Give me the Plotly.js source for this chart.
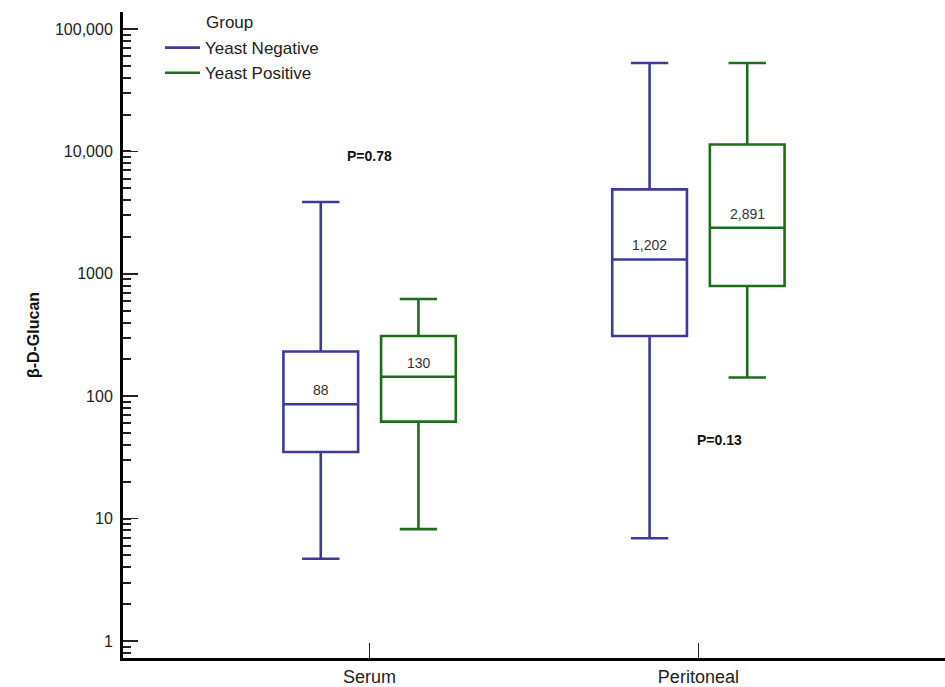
<!DOCTYPE html>
<html>
<head>
<meta charset="utf-8">
<script src="https://cdn.plot.ly/plotly-3.0.1.min.js"></script>
<style>html,body{margin:0;padding:0;background:#fff;} #chart{width:945px;height:687px;}</style>
</head>
<body>
<div id="chart"></div>
<script>
const categories = ["Serum", "Peritoneal"];
const groups = ["Yeast Negative", "Yeast Positive"];
// box statistics
const negLower  = [4.7, 6.9];
const negQ1     = [35, 310];
const negMedian = [86, 1310];
const negQ3     = [232, 4900];
const negUpper  = [3860, 52700];
const posLower  = [8.2, 142];
const posQ1     = [62, 795];
const posMedian = [144, 2380];
const posQ3     = [310, 11400];
const posUpper  = [622, 52700];
// labels drawn inside boxes
const negLabels = ["88", "1,202"];
const posLabels = ["130", "2,891"];
const pValues = ["P=0.78", "P=0.13"];
const pValueY = [9170, 44];
const yTickVals = [1, 10, 100, 1000, 10000, 100000];
const yTickText = ["1", "10", "100", "1000", "10,000", "100,000"];

const blue = "#3d3a9a";
const green = "#1d6d1d";
const FONT = "Arial, Liberation Sans, sans-serif";

const traces = [
  {type: "box", name: groups[0], x: categories, q1: negQ1, median: negMedian, q3: negQ3,
   lowerfence: negLower, upperfence: negUpper, boxpoints: false, showlegend: false,
   fillcolor: "rgba(255,255,255,0)", line: {color: blue, width: 2.6}, whiskerwidth: 0.5, hoverinfo: "skip"},
  {type: "box", name: groups[1], x: categories, q1: posQ1, median: posMedian, q3: posQ3,
   lowerfence: posLower, upperfence: posUpper, boxpoints: false, showlegend: false,
   fillcolor: "rgba(255,255,255,0)", line: {color: green, width: 2.6}, whiskerwidth: 0.5, hoverinfo: "skip"},
  {type: "scatter", mode: "lines", name: groups[0], x: [null], y: [null], line: {color: blue, width: 2.6}, showlegend: true},
  {type: "scatter", mode: "lines", name: groups[1], x: [null], y: [null], line: {color: green, width: 2.6}, showlegend: true}
];

const annotations = [];
categories.forEach((c, i) => {
  annotations.push({x: c, y: Math.log10(negMedian[i]), xref: "x", yref: "y", text: negLabels[i],
    showarrow: false, xshift: -49, yshift: 14, font: {family: FONT, size: 14, color: "#333"}});
  annotations.push({x: c, y: Math.log10(posMedian[i]), xref: "x", yref: "y", text: posLabels[i],
    showarrow: false, xshift: 49, yshift: 14, font: {family: FONT, size: 14, color: "#333"}});
});
annotations.push({x: categories[0], y: Math.log10(pValueY[0]), xref: "x", yref: "y", text: "<b>" + pValues[0] + "</b>",
  showarrow: false, xshift: 0, font: {family: FONT, size: 14, color: "#111"}});
annotations.push({x: categories[1], y: Math.log10(pValueY[1]), xref: "x", yref: "y", text: "<b>" + pValues[1] + "</b>",
  showarrow: false, xshift: 21, font: {family: FONT, size: 14, color: "#111"}});
annotations.push({x: 0.098, y: 1, xref: "paper", yref: "paper", xanchor: "left", yanchor: "middle", yshift: -10,
  text: "Group", showarrow: false, font: {family: FONT, size: 17, color: "#222"}});

const layout = {
  width: 945, height: 687,
  margin: {l: 123, r: 0, t: 12, b: 29},
  paper_bgcolor: "#fff", plot_bgcolor: "#fff",
  boxmode: "group", boxgap: 0.406, boxgroupgap: 0.235,
  font: {family: FONT, size: 16, color: "#222"},
  xaxis: {
    type: "category", range: [-0.75, 1.75], showline: true, linecolor: "#000", linewidth: 3,
    ticks: "inside", ticklen: 15, tickwidth: 1, tickcolor: "#222", showgrid: false, zeroline: false,
    tickfont: {size: 18, color: "#222"}, fixedrange: true
  },
  yaxis: {
    type: "log", range: [-0.139, 5.139], showline: true, linecolor: "#000", linewidth: 3,
    tickvals: yTickVals, ticktext: yTickText,
    ticks: "inside", ticklen: 15, tickwidth: 1.5, tickcolor: "#222", showgrid: false, zeroline: false,
    tickfont: {size: 16, color: "#222"}, ticklabelstandoff: 4,
    minor: {ticks: "inside", ticklen: 8, tickwidth: 2, tickcolor: "#222", dtick: "D1", showgrid: false},
    title: {text: "<b>β-D-Glucan</b>", font: {size: 16, color: "#111"}, standoff: 12}
  },
  showlegend: true,
  legend: {x: 0.045, y: 0.972, xanchor: "left", yanchor: "top", yref: "paper", bgcolor: "rgba(0,0,0,0)",
    font: {size: 17, color: "#222"}, tracegroupgap: 0, itemwidth: 35},
  annotations: annotations
};

Plotly.newPlot("chart", traces, layout, {displayModeBar: false, staticPlot: true});
</script>
</body>
</html>
